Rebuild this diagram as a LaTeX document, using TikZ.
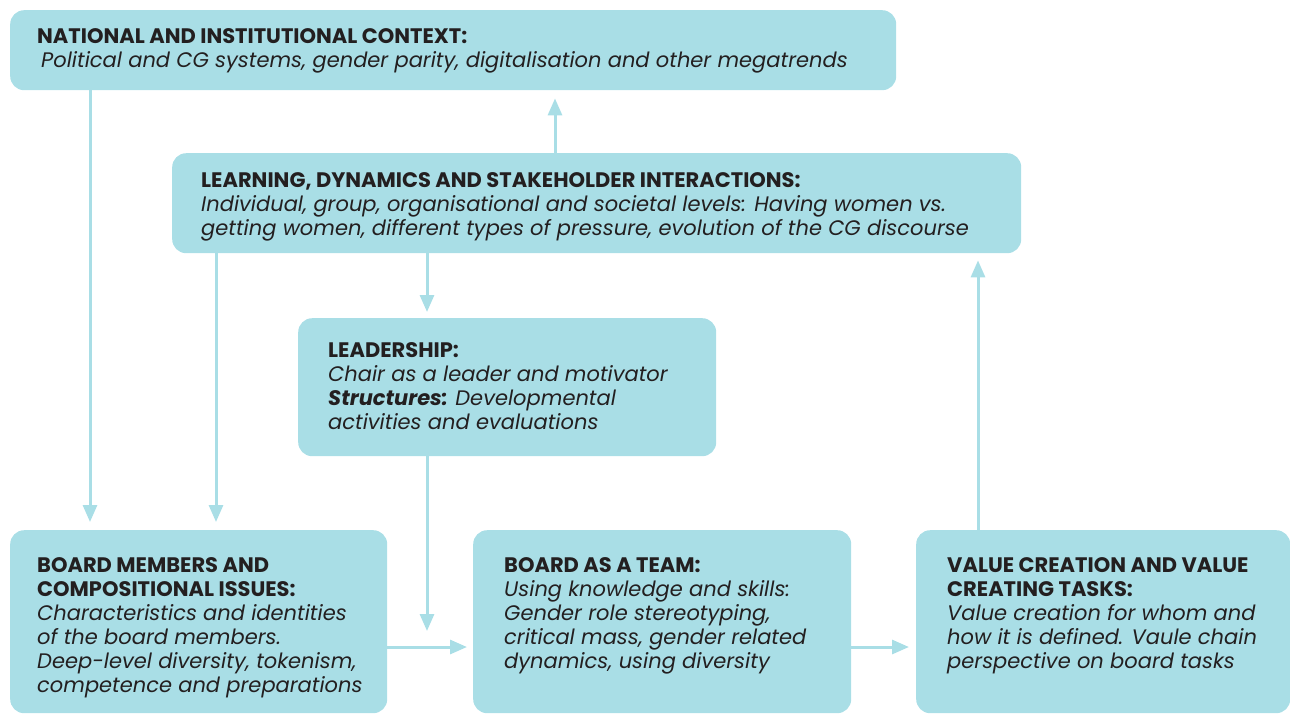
\documentclass[tikz,border=0pt]{standalone}
\usepackage{fontspec}
\setmainfont{Poppins}
\usetikzlibrary{arrows.meta,calc}
\definecolor{boxc}{HTML}{A9DEE6}
\definecolor{txt}{HTML}{231F20}
\tikzset{
  box/.style={fill=boxc, draw=none, rounded corners=14pt, anchor=north west, inner sep=0pt},
  lbl/.style={anchor=north west, inner sep=0pt, align=left, text=txt, font=\fontsize{21}{24}\selectfont},
  arr/.style={draw=boxc, line width=3pt, -{Triangle[length=17pt,width=14pt]}},
}
\begin{document}
\begin{tikzpicture}[x=1pt,y=-1pt]
\useasboundingbox (0,0) rectangle (1290,713);
% boxes
\node[box, minimum width=886pt, minimum height=80pt] (nat) at (10,10) {};
\node[box, minimum width=849pt, minimum height=100pt] (learn) at (172,153) {};
\node[box, minimum width=418pt, minimum height=138pt] (lead) at (298,318) {};
\node[box, minimum width=377pt, minimum height=183pt] (bm) at (10,530) {};
\node[box, minimum width=378pt, minimum height=183pt] (team) at (473,530) {};
\node[box, minimum width=374pt, minimum height=183pt] (val) at (916,530) {};
% texts
\node[lbl] (natt) at (37,28) {\textbf{NATIONAL AND INSTITUTIONAL CONTEXT:}\\
 \hspace*{4pt}\textit{Political and CG systems, gender parity, digitalisation and other megatrends}};
\node[lbl] (learnt) at (201,172) {\textbf{LEARNING, DYNAMICS AND STAKEHOLDER INTERACTIONS:}\\
 \textit{Individual, group, organisational and societal levels: Having women vs.}\\
 \textit{getting women, different types of pressure, evolution of the CG discourse}};
\node[lbl] (leadt) at (328,342) {\textbf{LEADERSHIP:}\\
 \textit{Chair as a leader and motivator}\\
 \textbf{\textit{Structures:}} \textit{Developmental}\\
 \textit{activities and evaluations}};
\node[lbl] (bmt) at (37,557) {\textbf{BOARD MEMBERS AND}\\
 \textbf{COMPOSITIONAL ISSUES:}\\
 \textit{Characteristics and identities}\\
 \textit{of the board members.}\\
 \textit{Deep-level diversity, tokenism,}\\
 \textit{competence and preparations}};
\node[lbl] (teamt) at (504,557) {\textbf{BOARD AS A TEAM:}\\
 \textit{Using knowledge and skills:}\\
 \textit{Gender role stereotyping,}\\
 \textit{critical mass, gender related}\\
 \textit{dynamics, using diversity}};
\node[lbl] (valt) at (947,557) {\textbf{VALUE CREATION AND VALUE}\\
 \textbf{CREATING TASKS:}\\
 \textit{Value creation for whom and}\\
 \textit{how it is defined. Vaule chain}\\
 \textit{perspective on board tasks}};
% connectors
\coordinate (j) at (427,647);
\draw[arr, shorten >=8pt] ($(nat.south west)+(80,0)$) coordinate (a1) -- (a1 |- bm.north);
\draw[arr, shorten >=8pt] ($(learn.south west)+(44,0)$) coordinate (a2) -- (a2 |- bm.north);
\draw[arr, shorten >=6pt] ($(learn.south west)+(255,0)$) coordinate (a3) -- (a3 |- lead.north);
\draw[arr, shorten >=16pt] (lead.south -| j) -- (j);
\draw[arr, shorten >=6pt] (bm.east |- j) -- (team.west |- j);
\draw[arr, shorten >=7pt] (team.east |- j) -- (val.west |- j);
\draw[arr, shorten >=7pt] ($(val.north west)+(62,0)$) coordinate (a4) -- (a4 |- learn.south);
\draw[arr, shorten >=8pt] ($(learn.north west)+(383,0)$) coordinate (a5) -- (a5 |- nat.south);
\end{tikzpicture}
\end{document}
